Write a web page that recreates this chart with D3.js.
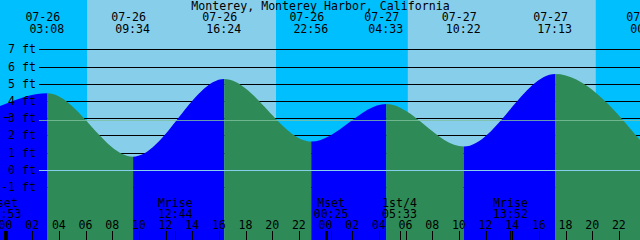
<!DOCTYPE html>
<html>
<head>
<meta charset="utf-8">
<script src="https://cdn.jsdelivr.net/npm/d3@7"></script>
<style>
    html, body { margin: 0; padding: 0; background: #fff; }
    svg { display: block; }
    text { font-family: "DejaVu Sans Mono", monospace; font-size: 11.6px; fill: #000; }
</style>
</head>
<body>
<div id="tideChart"></div>
<script>
// tide curve: reading at left edge, then highs / lows
const curveTimes = ['07-25 23:35', '07-26 03:08', '07-26 09:34', '07-26 16:24', '07-26 22:56', '07-27 04:33', '07-27 10:22', '07-27 17:13', '07-28 00:12'];
const curveFeet = [3.71, 4.45, 0.77, 5.28, 1.65, 3.83, 1.36, 5.57, 1.15];

// labelled tide events (index into curve arrays)
const eventIdx = [1, 2, 3, 4, 5, 6, 7, 8];

const sunriseTimes = ['07-26 06:07', '07-27 06:10'];
const sunsetTimes = ['07-26 20:17', '07-27 20:16'];

const moonTimes = ['07-25 23:53', '07-26 12:44', '07-27 00:25', '07-27 05:33', '07-27 13:52'];
const moonLabels = ['Mset', 'Mrise', 'Mset', '1st/4', 'Mrise'];

const feetTicks = [-1, 0, 1, 2, 3, 4, 5, 6, 7];
const meanLevel = 2.88;
const viewStart = '07-25 23:35';
const viewEnd = '07-27 23:35';
const title = 'Monterey, Monterey Harbor, California';

(function () {
    let w = 640, h = 240;
    let parse = d3.timeParse('%Y-%m-%d %H:%M');
    let t = function (s) { return parse('2021-' + s); };

    let x = d3.scaleTime().domain([t(viewStart), t(viewEnd)]).range([0, w]);
    let y = d3.scaleLinear().domain([-1, 7]).range([187.2, 49.3]);

    let svg = d3.select('#tideChart')
        .append('svg')
        .attr('width', w)
        .attr('height', h);

    // night background, day bands on top
    svg.append('rect')
        .attr('width', w).attr('height', h)
        .attr('fill', '#00bfff');

    svg.selectAll('.day')
        .data(sunriseTimes)
        .enter()
        .append('rect')
        .attr('class', 'day')
        .attr('x', function (d) { return x(t(d)); })
        .attr('y', 0)
        .attr('width', function (d, i) { return x(t(sunsetTimes[i])) - x(t(d)); })
        .attr('height', h)
        .attr('fill', '#87ceeb');

    // grid lines (behind the tide)
    svg.selectAll('.grid')
        .data(feetTicks)
        .enter()
        .append('line')
        .attr('class', 'grid')
        .attr('x1', 39).attr('x2', w)
        .attr('y1', function (d) { return Math.round(y(d)) + 0.5; })
        .attr('y2', function (d) { return Math.round(y(d)) + 0.5; })
        .attr('stroke', '#000')
        .attr('stroke-width', 1);

    // tide area
    let pts = curveTimes.map(function (d, i) { return { time: t(d), ft: curveFeet[i] }; });
    let area = d3.area()
        .curve(d3.curveMonotoneX)
        .x(function (d) { return x(d.time); })
        .y0(h)
        .y1(function (d) { return y(d.ft); });

    let defs = svg.append('defs');
    pts.slice(0, -1).forEach(function (p, i) {
        let x0 = x(p.time), x1 = x(pts[i + 1].time);
        defs.append('clipPath')
            .attr('id', 'seg' + i)
            .append('rect')
            .attr('x', x0).attr('y', 0)
            .attr('width', x1 - x0).attr('height', h);

        svg.append('path')
            .datum(pts)
            .attr('d', area)
            .attr('clip-path', 'url(#seg' + i + ')')
            .attr('fill', pts[i + 1].ft > p.ft ? '#0000ff' : '#2e8b57');
    });

    // datum and mean level lines
    svg.append('line')
        .attr('x1', 39).attr('x2', w)
        .attr('y1', Math.round(y(0)) + 0.5).attr('y2', Math.round(y(0)) + 0.5)
        .attr('stroke', '#87ceeb');
    svg.append('line')
        .attr('x1', 39).attr('x2', w)
        .attr('y1', Math.round(y(meanLevel)) + 0.5).attr('y2', Math.round(y(meanLevel)) + 0.5)
        .attr('stroke', '#7fbf9f')
        .attr('stroke-opacity', 0.8);

    // little mark at the left
    svg.append('path')
        .attr('d', 'M3,117.5H10M9.5,113V122')
        .attr('stroke', '#000')
        .attr('fill', 'none');

    // y labels
    svg.selectAll('.ylab')
        .data(feetTicks)
        .enter()
        .append('text')
        .attr('class', 'ylab')
        .attr('x', 36)
        .attr('y', function (d) { return y(d) + 4; })
        .attr('text-anchor', 'end')
        .text(function (d) { return d + ' ft'; });

    // title
    svg.append('text')
        .attr('x', 320.5).attr('y', 10)
        .attr('text-anchor', 'middle')
        .text(title);

    // tide event labels
    let fmtDate = d3.timeFormat('%m-%d'), fmtTime = d3.timeFormat('%H:%M');
    let ev = svg.selectAll('.ev')
        .data(eventIdx.map(function (i) { return pts[i]; }))
        .enter()
        .append('g')
        .attr('class', 'ev')
        .attr('transform', function (d) { return 'translate(' + x(d.time) + ',0)'; });
    ev.append('text')
        .attr('x', -4.5).attr('y', 21.3)
        .attr('text-anchor', 'middle')
        .text(function (d) { return fmtDate(d.time); });
    ev.append('text')
        .attr('x', -0.5).attr('y', 33.3)
        .attr('text-anchor', 'middle')
        .text(function (d) { return fmtTime(d.time); });

    // hour ticks
    let hours = x.ticks(d3.timeHour.every(2));
    svg.selectAll('.htick')
        .data(hours)
        .enter()
        .append('line')
        .attr('class', 'htick')
        .attr('x1', function (d) { return Math.round(x(d)) + 0.5; })
        .attr('x2', function (d) { return Math.round(x(d)) + 0.5; })
        .attr('y1', 231).attr('y2', h)
        .attr('stroke', '#000')
        .attr('stroke-width', function (d) { return d.getHours() === 0 ? 3 : 1; });
    svg.selectAll('.hlab')
        .data(hours)
        .enter()
        .append('text')
        .attr('class', 'hlab')
        .attr('x', function (d) { return x(d); })
        .attr('y', 229.3)
        .attr('text-anchor', 'middle')
        .text(d3.timeFormat('%H'));

    // moon events
    let moon = moonTimes.map(function (d, i) { return { time: t(d), label: moonLabels[i] }; });
    svg.selectAll('.mtick')
        .data(moon)
        .enter()
        .append('line')
        .attr('class', 'mtick')
        .attr('x1', function (d) { return Math.round(x(d.time)) + 0.5; })
        .attr('x2', function (d) { return Math.round(x(d.time)) + 0.5; })
        .attr('y1', 231).attr('y2', h)
        .attr('stroke', '#000');
    let mg = svg.selectAll('.mlab')
        .data(moon)
        .enter()
        .append('g')
        .attr('class', 'mlab')
        .attr('transform', function (d) { return 'translate(' + x(d.time) + ',0)'; });
    mg.append('text')
        .attr('y', 206.5)
        .attr('text-anchor', 'middle')
        .text(function (d) { return d.label; });
    mg.append('text')
        .attr('y', 218)
        .attr('text-anchor', 'middle')
        .text(function (d) { return fmtTime(d.time); });
})();
</script>
</body>
</html>
